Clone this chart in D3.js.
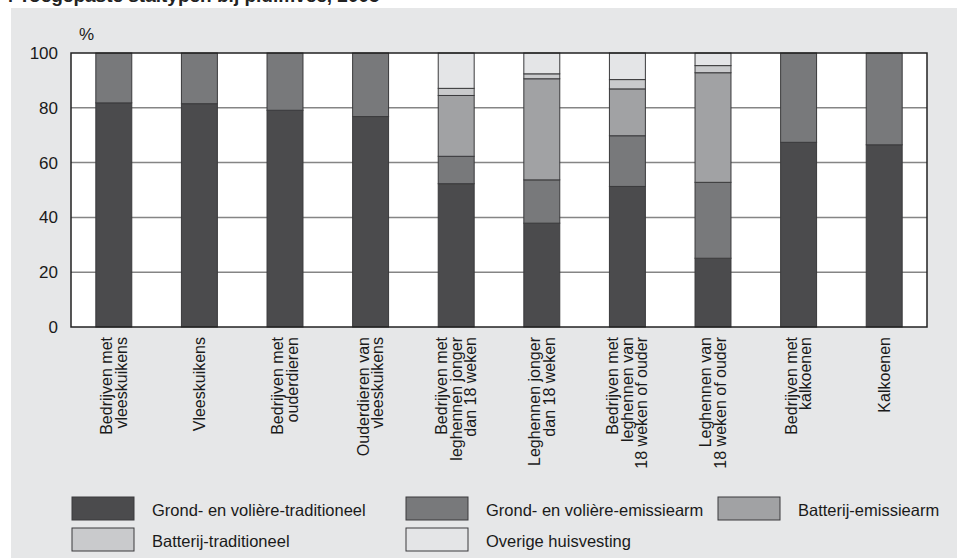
<!DOCTYPE html>
<html>
<head>
<meta charset="utf-8">
<script src="https://cdn.jsdelivr.net/npm/d3@7"></script>
<style>
  html, body { margin: 0; padding: 0; background: #ffffff; }
  svg { display: block; font-family: "Liberation Sans", Arial, Helvetica, sans-serif; }
</style>
</head>
<body>
<svg id="chart" width="957" height="558"></svg>
<script>
// Categories (multi-line axis labels)
const categories = [
  ["Bedrijven met", "vleeskuikens"],
  ["Vleeskuikens"],
  ["Bedrijven met", "ouderdieren"],
  ["Ouderdieren van", "vleeskuikens"],
  ["Bedrijven met", "leghennen jonger", "dan 18 weken"],
  ["Leghennen jonger", "dan 18 weken"],
  ["Bedrijven met", "leghennen van", "18 weken of ouder"],
  ["Leghennen van", "18 weken of ouder"],
  ["Bedrijven met", "kalkoenen"],
  ["Kalkoenen"]
];

// Series values (%)
const grondTraditioneel = [81.8, 81.5, 79.1, 76.8, 52.3, 37.9, 51.3, 25.1, 67.4, 66.5];
const grondEmissiearm   = [18.2, 18.5, 20.9, 23.2, 10.0, 15.8, 18.5, 27.7, 32.6, 33.5];
const batterijEmissiearm = [0, 0, 0, 0, 22.2, 36.9, 17.1, 40.0, 0, 0];
const batterijTraditioneel = [0, 0, 0, 0, 2.6, 1.8, 3.4, 2.6, 0, 0];
const overigeHuisvesting = [0, 0, 0, 0, 12.9, 7.6, 9.7, 4.6, 0, 0];

const seriesNames = [
  "Grond- en volière-traditioneel",
  "Grond- en volière-emissiearm",
  "Batterij-emissiearm",
  "Batterij-traditioneel",
  "Overige huisvesting"
];
const seriesValues = [grondTraditioneel, grondEmissiearm, batterijEmissiearm, batterijTraditioneel, overigeHuisvesting];
const seriesColors = ["#4b4b4d", "#78797b", "#a1a2a4", "#c9cacc", "#e4e5e7"];

const yTicks = [0, 20, 40, 60, 80, 100];

const svg = d3.select("#chart");

// Title (runs off the top edge)
svg.append("text")
  .attr("x", 3).attr("y", 2)
  .attr("font-size", 19).attr("font-weight", "bold").attr("fill", "#222")
  .text("4  Toegepaste staltypen bij pluimvee, 2005");

// Grey panel
svg.append("rect")
  .attr("x", 11).attr("y", 8).attr("width", 957 - 11).attr("height", 558 - 8)
  .attr("fill", "#e6e7e8");

const plot = { left: 71, right: 927, top: 53, bottom: 327 };

const x = d3.scaleBand()
  .domain(d3.range(categories.length))
  .range([plot.left, plot.right])
  .paddingInner(0.58).paddingOuter(0.29);

const y = d3.scaleLinear().domain([0, 100]).range([plot.bottom, plot.top]);

// Plot background
svg.append("rect")
  .attr("x", plot.left).attr("y", plot.top)
  .attr("width", plot.right - plot.left).attr("height", plot.bottom - plot.top)
  .attr("fill", "#ffffff");

// Horizontal gridlines
svg.append("g")
  .selectAll("line")
  .data(yTicks.filter(t => t > 0 && t < 100))
  .join("line")
  .attr("x1", plot.left).attr("x2", plot.right)
  .attr("y1", d => y(d)).attr("y2", d => y(d))
  .attr("stroke", "#858585").attr("stroke-width", 1.5);

// Stacked bars
const rows = categories.map((c, i) => {
  const r = { idx: i };
  seriesNames.forEach((s, k) => { r[s] = seriesValues[k][i]; });
  return r;
});
const stacked = d3.stack().keys(seriesNames)(rows);

svg.append("g")
  .selectAll("g")
  .data(stacked)
  .join("g")
  .attr("fill", (d, k) => seriesColors[k])
  .selectAll("rect")
  .data(d => d.filter(p => p[1] - p[0] > 0))
  .join("rect")
  .attr("x", d => x(d.data.idx))
  .attr("width", x.bandwidth())
  .attr("y", d => y(d[1]))
  .attr("height", d => y(d[0]) - y(d[1]))
  .attr("stroke", "#3a3a3c").attr("stroke-width", 1);

// Plot frame
svg.append("rect")
  .attr("x", plot.left).attr("y", plot.top)
  .attr("width", plot.right - plot.left).attr("height", plot.bottom - plot.top)
  .attr("fill", "none").attr("stroke", "#222").attr("stroke-width", 1.5);

// Y axis labels
const yAxis = d3.axisLeft(y).tickValues(yTicks).tickSize(0).tickPadding(13);
const yg = svg.append("g").attr("transform", `translate(${plot.left},0)`).call(yAxis);
yg.select(".domain").remove();
yg.selectAll("text")
  .attr("font-size", 17).attr("fill", "#1a1a1a")
  .attr("font-family", "\"Liberation Sans\", Arial, sans-serif");

svg.append("text")
  .attr("x", 79).attr("y", 40)
  .attr("font-size", 17).attr("fill", "#1a1a1a")
  .text("%");

// X labels, rotated
const lineStep = 14.6, capH = 11;
const xl = svg.append("g");
categories.forEach((lines, i) => {
  const cx = x(i) + x.bandwidth() / 2;
  const n = lines.length;
  const b1 = -((n - 1) * lineStep - capH) / 2;
  const t = xl.append("text")
    .attr("transform", `translate(${cx},337) rotate(-90)`)
    .attr("text-anchor", "end")
    .attr("font-size", 16).attr("fill", "#1a1a1a");
  lines.forEach((ln, j) => {
    t.append("tspan").attr("x", 0).attr("y", b1 + j * lineStep).text(ln);
  });
});

// Legend
const legendItems = [
  { k: 0, x: 72, y: 497 },
  { k: 1, x: 406, y: 497 },
  { k: 2, x: 718, y: 497 },
  { k: 3, x: 72, y: 528 },
  { k: 4, x: 406, y: 528 }
];
const lg = svg.append("g");
legendItems.forEach(it => {
  lg.append("rect")
    .attr("x", it.x).attr("y", it.y).attr("width", 62).attr("height", 23)
    .attr("fill", seriesColors[it.k]).attr("stroke", "#3a3a3c").attr("stroke-width", 1);
  lg.append("text")
    .attr("x", it.x + 80).attr("y", it.y + 19)
    .attr("font-size", 16.5).attr("fill", "#1a1a1a")
    .text(seriesNames[it.k]);
});
</script>
</body>
</html>
